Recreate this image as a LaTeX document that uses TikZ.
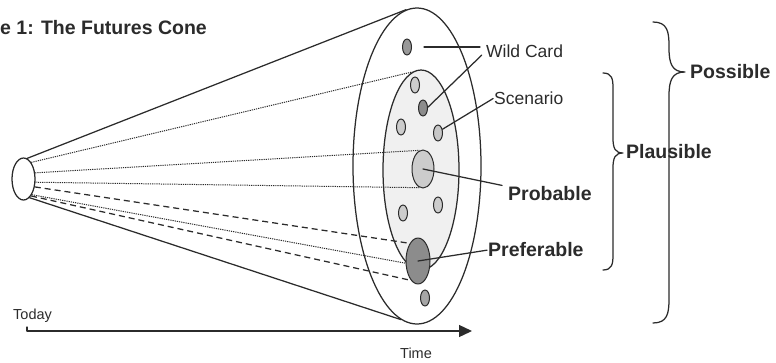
\documentclass[tikz,border=0pt]{standalone}
\usepackage{fontspec}
\setmainfont{Liberation Sans}
\usetikzlibrary{shapes.geometric,arrows.meta}
\definecolor{ink}{gray}{0.17}

\begin{document}
\begin{tikzpicture}[x=1pt, y=-1pt, font=\fontsize{17.5}{20}\selectfont, line cap=round, line join=round,
  outl/.style={draw=ink, line width=1.25pt},
  ray/.style={draw=ink, line width=1pt, line cap=butt, dash pattern=on 1.2pt off 1pt},
  dashray/.style={draw=ink, line width=1.25pt, line cap=butt, dash pattern=on 6pt off 4pt},
  spot/.style={ellipse, draw=ink, line width=1pt, fill=black!#1, minimum width=9pt, minimum height=16pt, inner sep=0pt},
  lbl/.style={anchor=west, inner sep=0pt, text=ink},
  blbl/.style={lbl, font=\fontsize{19.5}{22}\selectfont\bfseries}]
  \useasboundingbox (0,0) rectangle (776,362);
  \newcommand{\conebrace}[5]{% x, top, tip, bottom, half width
    \draw[outl] (#1,#2) .. controls ({#1+0.9*#5},#2) and ({#1+#5},{#2+0.6*#5}) .. ({#1+#5},{#2+1.5*#5})
      -- ({#1+#5},{#3-1.5*#5}) .. controls ({#1+#5},{#3-0.5*#5}) and ({#1+1.2*#5},#3) .. ({#1+2*#5},#3)
      .. controls ({#1+1.2*#5},#3) and ({#1+#5},{#3+0.5*#5}) .. ({#1+#5},{#3+1.5*#5})
      -- ({#1+#5},{#4-1.5*#5}) .. controls ({#1+#5},{#4-0.6*#5}) and ({#1+0.9*#5},#4) .. (#1,#4);
  }
  % cone: wide end and narrow start
  \node[ellipse, outl, fill=white, minimum width=128pt, minimum height=316pt, inner sep=0pt] (rim) at (417,166) {};
  \node[ellipse, outl, minimum width=23pt, minimum height=42pt, inner sep=0pt] (now) at (23.5,179) {};
  \draw[outl] (now.80) -- (rim.94);
  \draw[outl] (now.288) -- (rim.264);
  % plausible zone
  \node[ellipse, outl, fill=black!6, minimum width=76pt, minimum height=200pt, inner sep=0pt] (plaus) at (421,170) {};
  % futures
  \node[spot=40] (s1) at (407,47) {};
  \node[spot=20] (s2) at (415,85) {};
  \node[spot=45] (s3) at (423,108) {};
  \node[spot=20] (s4) at (401,127) {};
  \node[spot=22] (s5) at (438,133) {};
  \node[spot=20] (s6) at (403,213) {};
  \node[spot=20] (s7) at (438,205) {};
  \node[spot=35] (s8) at (425,298) {};
  \node[spot=20, minimum width=22pt, minimum height=38pt] (prob) at (423,169) {};
  \node[spot=45, minimum width=24pt, minimum height=46pt] (pref) at (418,261) {};
  % rays from today
  \draw[ray] (now.65) -- (plaus.95);
  \draw[ray] (now.28) -- (prob.100);
  \draw[ray] (now.-15) -- (prob.260);
  \draw[dashray] (now.-35) -- (pref.115);
  \draw[ray] (now.-62) -- (pref.190);
  \draw[dashray] (now.-66) -- (pref.250);
  % labels
  \node[blbl] (title) at (0,28) {e 1: The Futures Cone};
  \node[lbl] (wctxt) at (486,51) {Wild Card};
  \node[lbl] (sctxt) at (494,98) {Scenario};
  \node[blbl] (probtxt) at (508,194) {Probable};
  \node[blbl] (preftxt) at (488,250) {Preferable};
  \node[blbl] (posstxt) at (690,72) {Possible};
  \node[blbl] (plaustxt) at (626,152) {Plausible};
  \node[lbl, anchor=base west, font=\fontsize{14.5}{17}\selectfont] (today) at (13,319) {Today};
  \node[lbl, anchor=base west, font=\fontsize{14.5}{17}\selectfont] (time) at (400,358) {Time};
  \draw[outl, shorten <=12pt, shorten >=6pt] (s1) -- (s1 -| wctxt.west);
  \draw[outl, shorten <=6pt] (wctxt.west) -- (s3.10);
  \draw[outl, shorten <=1pt] (sctxt.west) -- (s5.40);
  \draw[outl, shorten >=6pt] (prob.center) -- (probtxt.north west);
  \draw[outl, shorten >=1pt] (pref.center) -- (preftxt.west);
  % braces
  \conebrace{653}{22}{72}{323}{16}
  \conebrace{603}{73}{153}{270}{10}
  % time axis
  \coordinate (t0) at (27,327);
  \coordinate (t1) at (27,331);
  \coordinate (tend) at (472,331);
  \draw[outl, line width=1.3pt, -{Triangle[length=13pt,width=12pt]}] (t0) -- (t1) -- (tend);
\end{tikzpicture}
\end{document}
